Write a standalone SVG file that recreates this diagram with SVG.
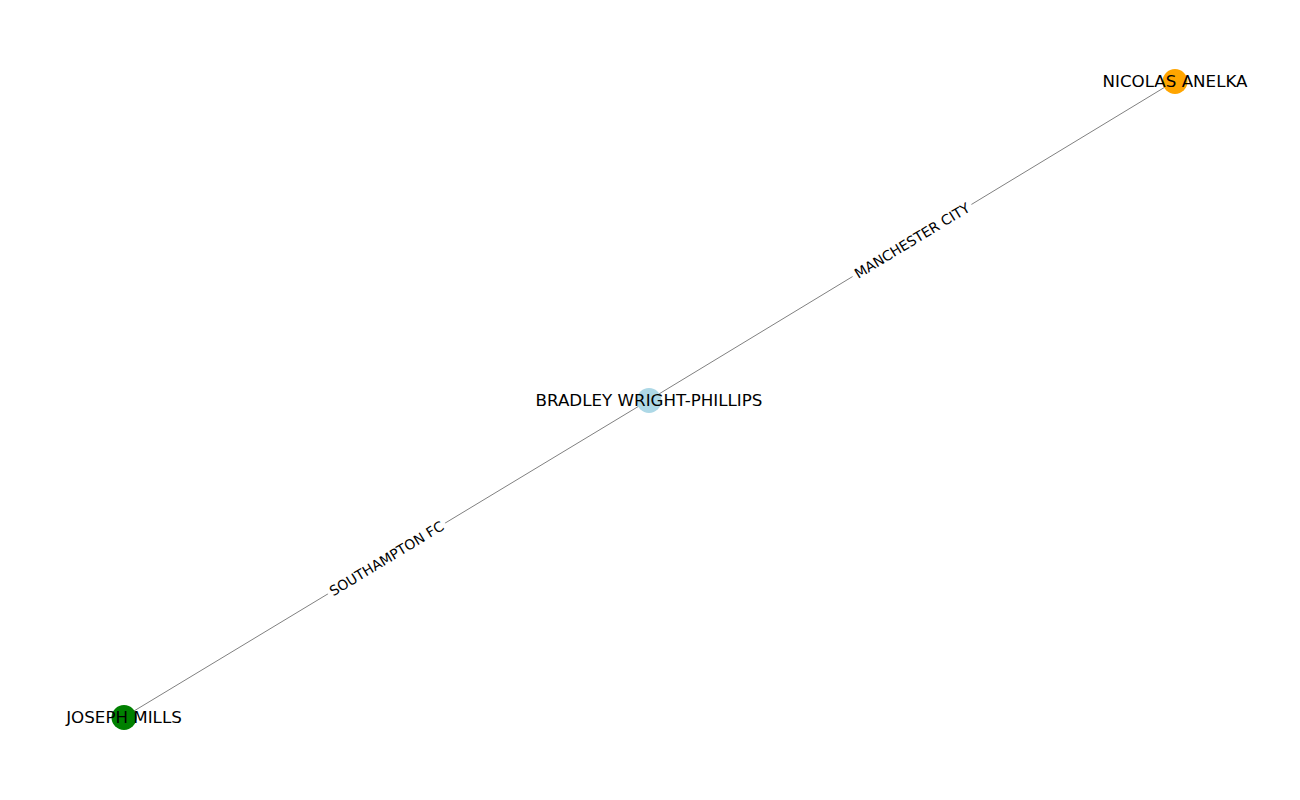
<svg xmlns="http://www.w3.org/2000/svg" width="1300" height="800" viewBox="0 0 1300 800">
<style>
.edge{stroke:#808080;stroke-width:1;fill:none}
.nl{font-family:"DejaVu Sans",sans-serif;font-size:16.7px;fill:#000;text-anchor:middle;dominant-baseline:central}
.el{font-family:"DejaVu Sans",sans-serif;font-size:13.9px;fill:#000;text-anchor:middle;dominant-baseline:central}
.bg{fill:#fff;stroke:#fff}
</style>
<rect width="1300" height="800" fill="#fff"/>
<g id="connectors">
<line class="edge" x1="649" y1="400" x2="1175" y2="81"/>
<line class="edge" x1="649" y1="400" x2="124" y2="717"/>
<g transform="translate(912,240.5) rotate(-31.2)">
<rect class="bg" x="-69" y="-9" width="138" height="18" rx="3"/>
<text class="el" x="0" y="0">MANCHESTER CITY</text>
</g>
<g transform="translate(386.5,558.5) rotate(-31.2)">
<rect class="bg" x="-68" y="-9" width="136" height="18" rx="3"/>
<text class="el" x="0" y="0">SOUTHAMPTON FC</text>
</g>
</g>
<g id="node-bradley">
<circle cx="649" cy="400.5" r="12.5" fill="#add8e6"/>
<text class="nl" x="649" y="400">BRADLEY WRIGHT-PHILLIPS</text>
</g>
<g id="node-nicolas">
<circle cx="1175" cy="81.5" r="12.5" fill="#ffa500"/>
<text class="nl" x="1175" y="81">NICOLAS ANELKA</text>
</g>
<g id="node-joseph">
<circle cx="124" cy="717.5" r="12.5" fill="#008000"/>
<text class="nl" x="124" y="717">JOSEPH MILLS</text>
</g>
</svg>
